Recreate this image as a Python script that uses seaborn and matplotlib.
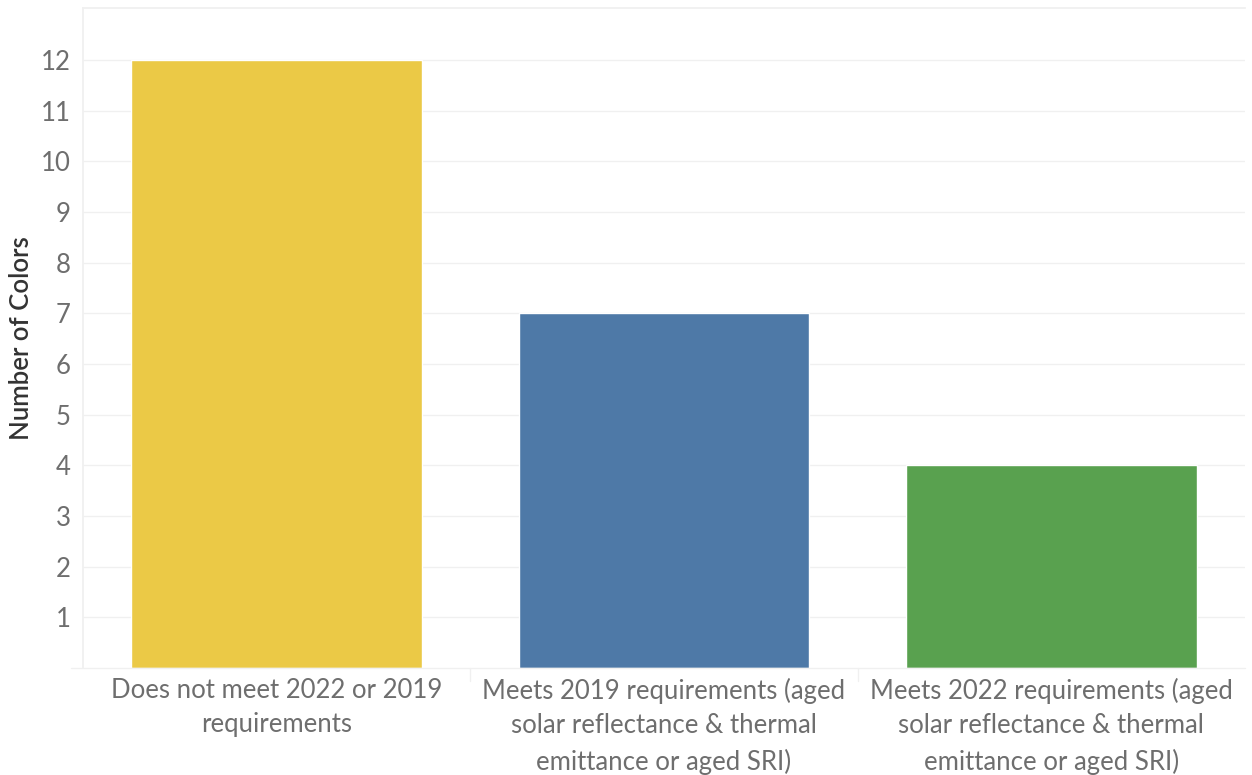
import matplotlib
matplotlib.use("Agg")
import matplotlib.pyplot as plt
import seaborn as sns
import pandas as pd

# chart data
categories = [
    "Does not meet 2022 or 2019\nrequirements",
    "Meets 2019 requirements (aged\nsolar reflectance & thermal\nemittance or aged SRI)",
    "Meets 2022 requirements (aged\nsolar reflectance & thermal\nemittance or aged SRI)",
]
counts = [12, 7, 4]
bar_colors = ["#EBC946", "#4E79A7", "#59A14F"]
y_ticks = list(range(1, 13))

sns.set_theme(style="white")
plt.rcParams["font.family"] = ["Lato", "DejaVu Sans"]

df = pd.DataFrame({"category": categories, "count": counts})

fig = plt.figure(figsize=(12.52, 7.75), dpi=100)
ax = fig.add_axes([83 / 1252, 107 / 775, 1162 / 1252, 660 / 775])

sns.barplot(data=df, x="category", y="count", hue="category",
            palette=bar_colors, width=0.75, legend=False, ax=ax, saturation=1)

ax.set_ylim(0, 13.03)
ax.set_xlim(-0.5, 2.5)
ax.set_yticks(y_ticks)
ax.grid(axis="y", color="#f0f0f0", linewidth=1)
ax.set_axisbelow(True)

for side in ["right", "bottom"]:
    ax.spines[side].set_visible(False)
ax.spines["left"].set_color("#f0f0f0")
ax.spines["top"].set_color("#f0f0f0")
ax.axhline(0, color="#f0f0f0", linewidth=1, xmin=-0.01, clip_on=False)

# separators between categories below the baseline
for xsep in [0.5, 1.5]:
    ax.plot([xsep, xsep], [0, -0.25], color="#f0f0f0", linewidth=1, clip_on=False)

ax.tick_params(axis="y", length=0, labelsize=18.5, labelcolor="#6e6e6e", pad=9)
ax.tick_params(axis="x", length=0, labelsize=18.5, labelcolor="#6e6e6e", pad=7)
for lbl in ax.get_xticklabels():
    lbl.set_linespacing(1.48)

ax.set_xlabel("")
ax.set_ylabel("Number of Colors", fontsize=18.5, color="#333333", fontweight="semibold")
ax.yaxis.set_label_coords(-0.0525, 0.5)
ax.yaxis.label.set_verticalalignment("center")

fig.savefig("out.png", dpi=100)
plt.close(fig)
